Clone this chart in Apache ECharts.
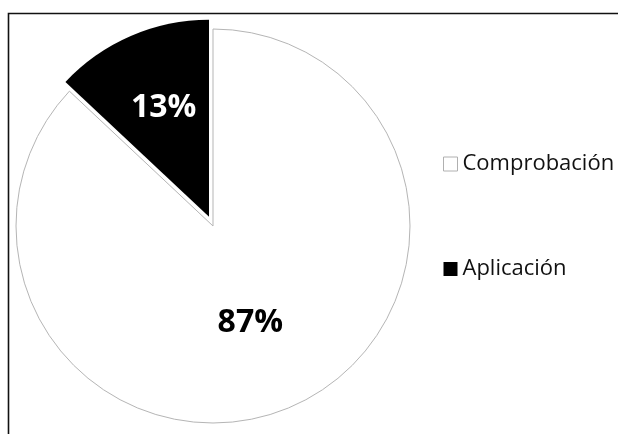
<!DOCTYPE html>
<html>
<head>
<meta charset="utf-8">
<script src="https://cdn.jsdelivr.net/npm/echarts@6/dist/echarts.min.js"></script>
<style>
  html, body { margin: 0; padding: 0; background: #fff; }
  #chart { width: 618px; height: 434px; }
</style>
</head>
<body>
<div id="chart"></div>
<script>
// Share of each activity type (percent)
const categories = ['Comprobación', 'Aplicación'];
const values = [87, 13];
const sliceColors = ['#ffffff', '#000000'];
const labelColors = ['#000000', '#ffffff'];
const explodedSlice = 'Aplicación';

const FONT = '"Open Sans", "Liberation Sans", sans-serif';

const seriesData = categories.map((name, i) => {
  const exploded = name === explodedSlice;
  // the exploded slice's label sits further out: a blank second line lifts it,
  // right padding pulls it left
  const labelOpts = exploded
    ? { color: labelColors[i], padding: [0, 10, 0, 0], formatter: '{c}%\n\u00a0' }
    : { color: labelColors[i], offset: [-3, 4], formatter: '{c}%' };
  return {
    name: name,
    value: values[i],
    selected: exploded,
    itemStyle: {
      color: sliceColors[i],
      borderColor: i === 0 ? '#b5b5b5' : '#000000',
      borderWidth: i === 0 ? 1 : 0
    },
    label: labelOpts,
    select: {
      itemStyle: { color: sliceColors[i] },
      label: labelOpts
    }
  };
});

const chart = echarts.init(document.getElementById('chart'), null, { renderer: 'canvas' });

chart.setOption({
  backgroundColor: '#ffffff',
  animation: false,
  graphic: [{
    type: 'rect',
    shape: { x: 8.5, y: 13.5, width: 700, height: 500 },
    style: { fill: 'none', stroke: '#111', lineWidth: 1.6 },
    silent: true,
    z: 0
  }],
  legend: {
    orient: 'vertical',
    left: 438,
    top: 148,
    itemWidth: 14,
    itemHeight: 14,
    itemGap: 83,
    icon: 'rect',
    selectedMode: false,
    textStyle: { fontFamily: FONT, fontSize: 22, color: '#111', padding: [0, 0, 0, 0] },
    data: categories.map((name, i) => ({
      name: name,
      itemStyle: {
        color: sliceColors[i],
        borderColor: i === 0 ? '#b0b0b0' : '#000',
        borderWidth: i === 0 ? 1 : 0
      }
    }))
  },
  series: [{
    type: 'pie',
    center: [213, 226],
    radius: 197,
    startAngle: 90,
    clockwise: true,
    selectedMode: 'single',
    selectedOffset: 10,
    avoidLabelOverlap: false,
    emphasis: { disabled: true },
    label: {
      show: true,
      position: 'inside',
      fontFamily: FONT,
      fontWeight: 'bold',
      fontSize: 32,
      lineHeight: 32
    },
    labelLine: { show: false },
    data: seriesData
  }]
});
</script>
</body>
</html>
